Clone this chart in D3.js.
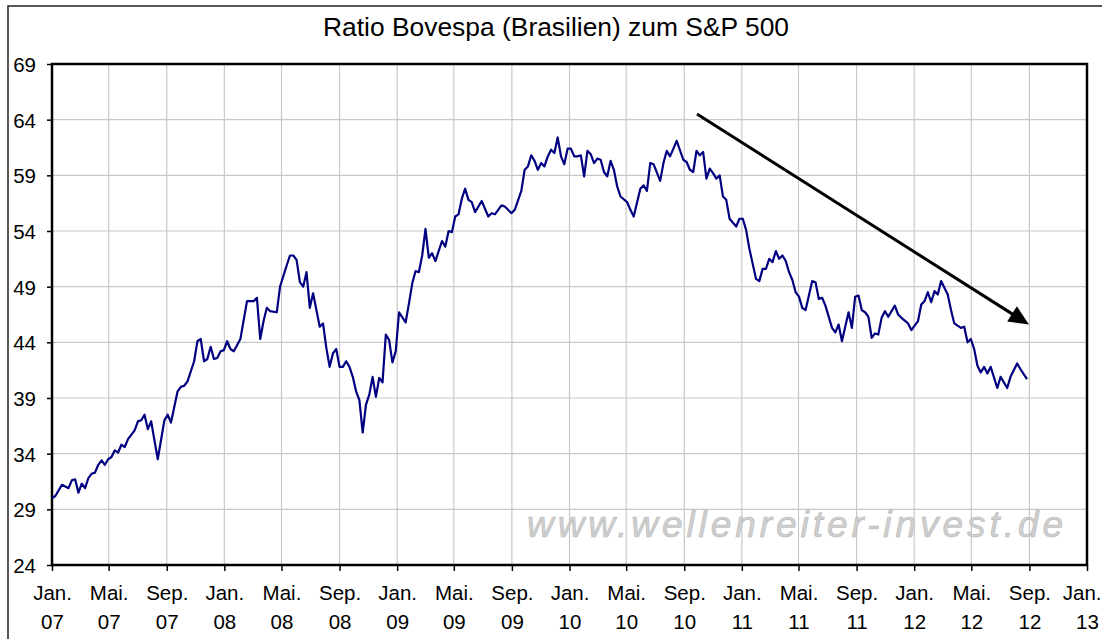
<!DOCTYPE html>
<html><head><meta charset="utf-8">
<script src="https://cdn.jsdelivr.net/npm/d3@7"></script>
<style>
body{margin:0;background:#fff}
svg{display:block}
text{font-family:"Liberation Sans",Arial,sans-serif;fill:#000}
</style>
</head><body>
<svg id="chart" width="1102" height="639"></svg>
<script>
// ---------------- data ----------------
const chartTitle = "Ratio Bovespa (Brasilien) zum S&P 500";
const seriesStart = "2007-01-01";
// week number since series start
const weeks = [0,1,3,5,6,7,8,9,10,11,12,13,14,15,16,17,18,19,20,21,22,23,25,26,27,28,29,30,32,34,35,36,38,39,40,41,43,44,45,46,47,48,49,50,51,52,53,54,55,57,59,61,62,63,64,65,66,68,69,71,72,73,
74,75,76,77,78,79,81,82,83,84,85,86,87,88,89,90,91,92,93,94,95,96,97,98,99,100,101,102,103,104,105,107,108,109,110,111,112,113,114,115,116,118,119,120,121,122,123,124,125,126,127,128,130,131,132,133,134,136,137,139,140,142,143,144,145,146,147,
148,149,150,151,152,153,154,155,156,157,158,159,160,161,162,163,164,165,166,167,168,169,170,171,172,174,175,176,178,179,180,181,182,184,185,186,187,189,191,192,193,194,195,196,197,198,199,200,201,202,203,204,205,207,208,209,210,211,213,214,215,216,217,218,219,220,221,
222,223,224,225,226,227,228,229,230,231,232,233,234,236,237,238,239,240,241,242,243,244,245,246,247,248,249,250,251,252,253,255,256,257,259,260,262,263,264,265,266,267,268,269,271,272,273,275,276,277,278,279,280,281,282,283,284,286,287,289,290,292,293,295];
const ratio = [30.0,30.2,31.2,30.9,31.6,31.7,30.5,31.3,30.9,31.8,32.2,32.3,33.0,33.4,33.0,33.5,33.7,34.3,34.1,34.8,34.6,35.3,36.1,36.9,37.0,37.5,36.2,36.9,33.5,37.0,37.5,36.8,39.6,40.0,40.1,40.5,42.3,44.1,44.3,42.3,42.5,43.6,42.5,42.6,43.2,43.3,44.1,43.4,43.2,44.3,47.7,47.7,48.0,44.3,45.9,47.1,46.8,46.7,49.0,50.9,51.8,51.8,
51.4,49.4,49.0,50.3,47.1,48.4,45.4,45.7,43.5,41.8,43.0,43.4,41.8,41.8,42.3,41.8,40.9,39.6,38.8,35.9,38.4,39.3,40.9,39.1,40.8,40.4,44.7,44.2,42.2,43.2,46.7,45.8,47.5,49.3,50.4,50.3,51.8,54.2,51.6,52.0,51.3,53.1,52.6,54.0,53.9,55.3,55.5,56.9,57.8,56.8,56.6,55.7,56.7,56.0,55.3,55.6,55.5,56.3,56.2,55.6,55.9,57.6,59.5,59.8,60.8,60.3,59.5,
60.1,59.8,60.7,61.3,61.0,62.4,60.7,60.0,61.4,61.4,60.7,60.7,60.8,58.9,61.2,60.9,60.1,60.5,60.4,59.3,58.9,60.3,59.5,58.0,57.1,56.6,55.9,55.3,57.8,58.1,57.6,60.1,60.0,58.5,60.1,61.2,60.7,62.1,60.4,60.2,59.5,59.3,61.2,60.8,61.1,58.7,59.6,59.2,58.7,59.0,57.1,56.8,55.1,54.4,55.1,55.1,54.1,52.4,49.7,49.5,50.6,50.6,51.5,51.2,52.2,51.5,51.8,
51.3,50.3,49.6,48.5,48.1,47.1,46.9,48.2,49.5,49.4,47.9,48.0,47.3,45.3,44.9,45.6,44.1,45.4,46.7,45.3,48.1,48.2,46.9,46.7,46.3,44.4,44.8,44.7,46.2,46.8,46.3,47.3,46.5,46.2,45.7,45.1,45.9,47.4,47.7,48.5,47.6,48.6,48.3,49.5,48.3,46.9,45.7,45.3,45.4,44.0,44.3,43.4,41.9,41.3,41.8,41.2,41.8,39.9,40.9,39.9,40.9,42.1,41.6,40.7];
const yTicks = [24,29,34,39,44,49,54,59,64,69];
const xDomain = ["2007-01-01","2013-01-01"];
const monthLabels = ["Jan.","Feb.","Mär.","Apr.","Mai.","Jun.","Jul.","Aug.","Sep.","Okt.","Nov.","Dez."];
const trendFrom = ["2010-09-28", 64.5];
const trendTo   = ["2012-08-31", 45.6];
const watermarkText = "www.wellenreiter-invest.de";

// ---------------- layout ----------------
const W = 1102, H = 639;
const plot = {left:52, top:64, right:1087, bottom:565};
const parse = d3.utcParse("%Y-%m-%d");
const start = parse(seriesStart);
const series = weeks.map((w,i)=>({date:d3.utcDay.offset(start, w*7), v:ratio[i]}));

const x = d3.scaleUtc().domain(xDomain.map(parse)).range([plot.left, plot.right]);
const y = d3.scaleLinear().domain([24,69]).range([plot.bottom, plot.top]);

const svg = d3.select("#chart");
svg.append("rect").attr("width",W).attr("height",H).attr("fill","#fff");
// outer chart border
svg.append("rect").attr("x",8).attr("y",6).attr("width",1110).attr("height",660)
  .attr("fill","none").attr("stroke","#222").attr("stroke-width",1.5);

const xTicks = d3.utcMonth.every(4).range(x.domain()[0], d3.utcDay.offset(x.domain()[1],1));

// grid
svg.append("g").selectAll("line").data(yTicks.slice(1,-1)).join("line")
  .attr("x1",plot.left).attr("x2",plot.right).attr("y1",d=>y(d)).attr("y2",d=>y(d))
  .attr("stroke","#c8c8c8").attr("stroke-width",1.2);
svg.append("g").selectAll("line").data(xTicks.slice(1,-1)).join("line")
  .attr("y1",plot.top).attr("y2",plot.bottom).attr("x1",d=>x(d)).attr("x2",d=>x(d))
  .attr("stroke","#c8c8c8").attr("stroke-width",1.2);

// watermark
svg.append("text").attr("x",527).attr("y",537).attr("textLength",536).attr("lengthAdjust","spacing")
  .style("font-style","italic").style("font-size","37px").style("fill","#cfcfcf")
  .style("stroke","#b8b8b8").style("stroke-width",0.6).text(watermarkText);

// axes
const yAxis = d3.axisLeft(y).tickValues(yTicks).tickSize(5).tickFormat(d3.format("d"));
const gy = svg.append("g").attr("transform",`translate(${plot.left},0)`).call(yAxis);
gy.select(".domain").remove();
gy.selectAll(".tick line").attr("stroke","#000").attr("stroke-width",1.5);
gy.selectAll(".tick text").attr("x",-16).attr("dy","0.36em")
  .style("font-size","20.5px").style("fill","#000");

const xAxis = d3.axisBottom(x).tickValues(xTicks).tickSize(6).tickFormat(()=>"");
const gx = svg.append("g").attr("transform",`translate(0,${plot.bottom})`).call(xAxis);
gx.select(".domain").remove();
gx.selectAll(".tick line").attr("stroke","#000").attr("stroke-width",1.5);
gx.selectAll(".tick").each(function(d){
  const g = d3.select(this);
  const m = g.append("text").attr("text-anchor","middle").attr("y",35)
    .style("font-size","20.5px").text(monthLabels[d.getUTCMonth()]);
  g.append("text").attr("text-anchor","middle").attr("y",64)
    .style("font-size","20.5px").text(d3.utcFormat("%y")(d));
  // keep label inside the picture
  const tx = x(d), half = m.node().getComputedTextLength()/2;
  if (tx + half > W - 1) m.attr("x", (W - 1) - tx - half);
});

// plot frame
svg.append("rect").attr("x",plot.left).attr("y",plot.top)
  .attr("width",plot.right-plot.left).attr("height",plot.bottom-plot.top)
  .attr("fill","none").attr("stroke","#000").attr("stroke-width",2.5);

// series line
const line = d3.line().x(d=>x(d.date)).y(d=>y(d.v));
svg.append("path").datum(series).attr("d",line).attr("fill","none")
  .attr("stroke","#000080").attr("stroke-width",2.2).attr("stroke-linejoin","round");

// trend arrow
const ax1 = x(parse(trendFrom[0])), ay1 = y(trendFrom[1]);
const ax2 = x(parse(trendTo[0])), ay2 = y(trendTo[1]);
const ang = Math.atan2(ay2-ay1, ax2-ax1);
const hl = 20, hw = 9;
const bx = ax2 - hl*Math.cos(ang), by = ay2 - hl*Math.sin(ang);
svg.append("line").attr("x1",ax1).attr("y1",ay1).attr("x2",bx+2*Math.cos(ang)).attr("y2",by+2*Math.sin(ang))
  .attr("stroke","#000").attr("stroke-width",3);
svg.append("path").attr("d",d3.line()([
  [ax2,ay2],
  [bx - hw*Math.sin(ang), by + hw*Math.cos(ang)],
  [bx + hw*Math.sin(ang), by - hw*Math.cos(ang)]
])+"Z").attr("fill","#000");

// title
svg.append("text").attr("x",556).attr("y",36).attr("text-anchor","middle")
  .attr("textLength",466).attr("lengthAdjust","spacingAndGlyphs")
  .style("font-size","25px").text(chartTitle);
</script>
</body></html>
